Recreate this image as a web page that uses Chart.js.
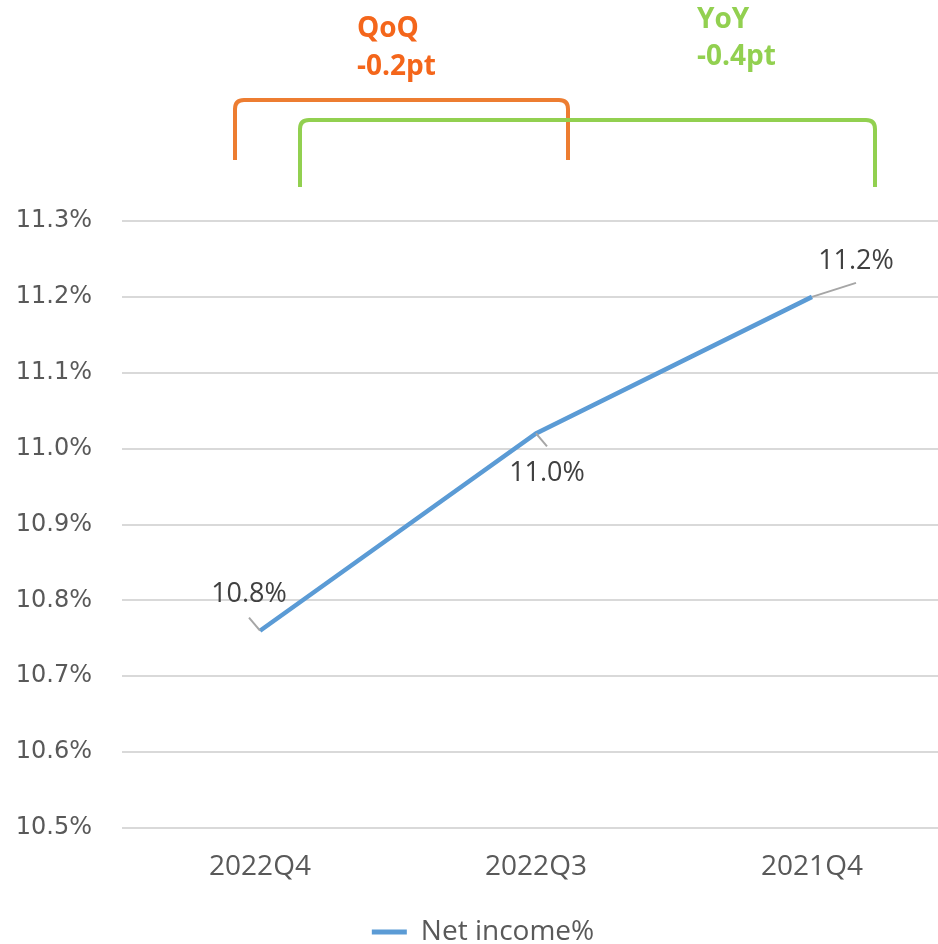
<!DOCTYPE html>
<html>
<head>
<meta charset="utf-8">
<script src="https://cdn.jsdelivr.net/npm/chart.js@4/dist/chart.umd.min.js"></script>
<style>
  html, body { margin: 0; padding: 0; background: #fff; overflow: hidden; }
  #wrap { width: 950px; height: 944px; }
</style>
</head>
<body>
<div id="wrap"><canvas id="netChart" width="950" height="944"></canvas></div>
<script>
// data
const quarters = ['2022Q4', '2022Q3', '2021Q4'];
const netIncome = [10.76, 11.02, 11.20];
const yTicks = [10.5, 10.6, 10.7, 10.8, 10.9, 11.0, 11.1, 11.2, 11.3];
const compareNames = ['QoQ', 'YoY'];
const compareDiffs = ['-0.2pt', '-0.4pt'];

// label placement relative to each point (px)
const labelOffsets = [[-11, -36], [11, 40], [44, -36]];
const leaderEnds = [[-11, -13], [11, 13], [44, -14]];

const brackets = [
  { from: 0, to: 1, dx0: -25, dx1: 32, top: 100, bottom: 160, color: '#ed7d31', text: '#f4661b', tx: 357, ty: [37, 75] },
  { from: 0, to: 2, dx0: 40, dx1: 63, top: 120, bottom: 187, color: '#92d050', text: '#92d050', tx: 697, ty: [28, 65] }
];

const annotate = {
  id: 'annotate',
  afterDatasetsDraw(chart) {
    const ctx = chart.ctx;
    const meta = chart.getDatasetMeta(0);
    ctx.save();
    // leader lines + value labels
    meta.data.forEach((pt, i) => {
      ctx.strokeStyle = '#a6a6a6';
      ctx.lineWidth = 2;
      ctx.beginPath();
      ctx.moveTo(pt.x, pt.y);
      ctx.lineTo(pt.x + leaderEnds[i][0], pt.y + leaderEnds[i][1]);
      ctx.stroke();
      ctx.fillStyle = '#404040';
      ctx.font = '27px "Open Sans"';
      ctx.textAlign = 'center';
      ctx.textBaseline = 'middle';
      ctx.fillText(netIncome[i].toFixed(1) + '%', pt.x + labelOffsets[i][0], pt.y + labelOffsets[i][1]);
    });
    // comparison brackets
    const xs = chart.scales.x;
    brackets.forEach((b, k) => {
      const x0 = xs.getPixelForValue(b.from) + b.dx0;
      const x1 = xs.getPixelForValue(b.to) + b.dx1;
      const r = 9;
      ctx.strokeStyle = b.color;
      ctx.lineWidth = 4;
      ctx.beginPath();
      ctx.moveTo(x0, b.bottom);
      ctx.lineTo(x0, b.top + r);
      ctx.quadraticCurveTo(x0, b.top, x0 + r, b.top);
      ctx.lineTo(x1 - r, b.top);
      ctx.quadraticCurveTo(x1, b.top, x1, b.top + r);
      ctx.lineTo(x1, b.bottom);
      ctx.stroke();
      ctx.fillStyle = b.text;
      ctx.font = 'bold 28px "Open Sans"';
      ctx.textAlign = 'left';
      ctx.textBaseline = 'alphabetic';
      ctx.fillText(compareNames[k], b.tx, b.ty[0]);
      ctx.fillText(compareDiffs[k], b.tx, b.ty[1]);
    });
    ctx.restore();
  }
};

const ctxNet = document.getElementById('netChart').getContext('2d');
new Chart(ctxNet, {
  type: 'line',
  data: {
    labels: quarters,
    datasets: [{
      label: 'Net income%',
      data: netIncome,
      borderColor: '#5b9bd5',
      backgroundColor: '#5b9bd5',
      borderWidth: 4.5,
      pointRadius: 0,
      tension: 0
    }]
  },
  options: {
    responsive: false,
    animation: false,
    layout: { padding: { top: 221, left: 16, right: 0, bottom: -12 } },
    plugins: {
      tooltip: { enabled: false },
      legend: {
        position: 'bottom',
        labels: {
          font: { family: 'Open Sans', size: 28 },
          color: '#595959',
          boxWidth: 35,
          boxHeight: 5,
          padding: 0,
          generateLabels: (chart) => chart.data.datasets.map((ds, i) => ({
            text: ds.label,
            fillStyle: '#5b9bd5',
            strokeStyle: '#5b9bd5',
            lineWidth: 0,
            datasetIndex: i,
            fontColor: '#595959'
          }))
        }
      }
    },
    scales: {
      x: {
        offset: true,
        grid: { display: false },
        border: { display: false },
        ticks: { font: { family: 'Open Sans', size: 28 }, color: '#595959', padding: 14, maxRotation: 0 },
        afterFit: (s) => { s.height = 90; }
      },
      y: {
        min: 10.5,
        max: 11.3,
        afterBuildTicks: (s) => { s.ticks = yTicks.map(v => ({ value: v })); },
        afterFit: (s) => { s.width = 106; },
        grid: { color: '#d9d9d9', lineWidth: 2, drawTicks: false },
        border: { display: false },
        ticks: {
          font: { family: 'DejaVu Sans', size: 24 },
          color: '#595959',
          padding: 30,
          callback: (v) => Number(v).toFixed(1) + '%'
        }
      }
    }
  },
  plugins: [annotate]
});
</script>
</body>
</html>
